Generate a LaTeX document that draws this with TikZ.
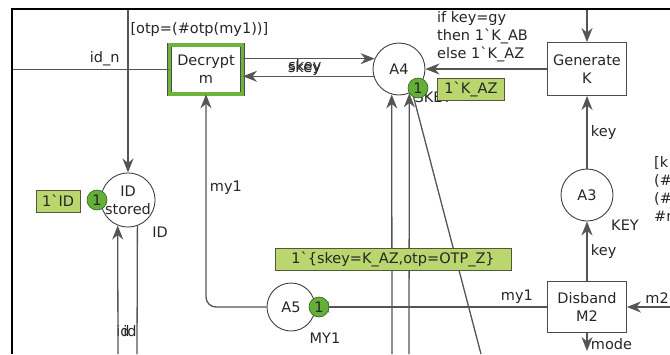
\documentclass[tikz,border=0pt]{standalone}
\usepackage{fontspec}
\setmainfont{DejaVu Sans}
\usetikzlibrary{arrows.meta}

\definecolor{arcgray}{RGB}{85,85,85}
\definecolor{tokgreen}{RGB}{100,175,55}
\definecolor{tokedge}{RGB}{45,100,30}
\definecolor{markfill}{RGB}{185,215,110}
\definecolor{markedge}{RGB}{85,85,60}
\definecolor{enabled}{RGB}{110,180,60}
\newcommand{\bq}{\textasciigrave}

\begin{document}
\begin{tikzpicture}[x=1pt,y=-1pt,>={Stealth[length=14pt,width=11pt,inset=4.5pt]},
    every node/.style={font=\fontsize{14.5}{18}\selectfont, text=black!85},
    arc/.style={draw=arcgray, line width=1.3pt},
    place/.style={circle, draw=black!75, line width=0.9pt, fill=white, inner sep=0pt, minimum size=52pt, align=center},
    trans/.style={rectangle, draw=black!70, line width=0.9pt, fill=white, minimum width=79pt, minimum height=53pt, align=center, inner sep=0pt},
    enabledtrans/.style={trans, double=enabled, double distance=3.4pt, line width=0.6pt, minimum width=73.4pt, minimum height=49pt},
    token/.style={circle, fill=tokgreen, draw=tokedge, line width=0.6pt, inner sep=0pt, minimum size=20pt},
    marking/.style={rectangle, fill=markfill, draw=markedge, line width=0.8pt, inner sep=0pt, inner xsep=5pt, minimum height=22pt}]
      \useasboundingbox (0,0) rectangle (670,354);
      \clip (0,0) rectangle (670,354);

      % places and transitions
      \node[place] (idst) at (128,200) {ID\\stored};
      \node[place] (A4) at (399,69) {A4};
      \node[place] (A3) at (587,195) {A3};
      \node[place, minimum size=48pt] (A5) at (291,307) {A5};
      \node[enabledtrans] (dec) at (206,69.5) {Decrypt\\m};
      \node[trans] (gen) at (587,69) {Generate\\K};
      \node[trans, minimum height=51pt] (dis) at (587,307) {Disband\\M2};

      % inscriptions
      \node[anchor=west] (decguard) at (127,29) {[otp=(\#otp(my1))]};
      \node[anchor=north west, align=left, inner sep=0pt] (gencode) at (437,11) {if key=gy\\then 1\bq K\_AB\\else 1\bq K\_AZ};
      \node[anchor=north west, align=left, inner sep=0pt] (disguard) at (654,156) {[k\\(\#\\(\#\\\#m};
      \node (idcs) at (160,232) {ID};
      \node (A4cs) at (433,97) {SKEY};
      \node (A3cs) at (625,225) {KEY};
      \node (A5cs) at (325,338) {MY1};
      \node (lid1) at (123,331) {id};
      \node (lid2) at (130,331) {id};

      % free ends
      \coordinate (idtop) at (128,9);
      \coordinate (idleft) at (12,69.5);
      \coordinate (idbot1) at (118,354);
      \coordinate (idbot2) at (137,354);
      \coordinate (gentop) at (587,9);
      \coordinate (m2end) at (670,307);
      \coordinate (modeend) at (587,351);
      \coordinate (a4bot1) at (392,354);
      \coordinate (a4bot2) at (409,354);
      \coordinate (a4bot3) at (481,354);

      % arcs
      \draw[arc,->] (idtop) -- (idst);
      \draw[arc] (idleft) -- node[above, pos=.59] {id\_n} (dec);
      \draw[arc,->] (idbot1) -- (idst.-112);
      \draw[arc] (idst.-70) -- (idbot2);
      \draw[arc,->] (dec.east |- A4.157) -- node[pos=.47, anchor=north, inner sep=0pt] {skey} (A4.157);
      \draw[arc,->] (A4.196) -- node[pos=.53, anchor=south, inner sep=0pt] {skey} (dec.east |- A4.196);
      \draw[arc,->] (gen) -- (A4);
      \draw[arc,->] (gentop) -- (gen);
      \draw[arc,->] (A3) -- node[right] {key} (gen);
      \draw[arc,->] (dis) -- node[right] {key} (A3);
      \draw[arc,->] (m2end) -- node[above, pos=.3] {m2} (dis);
      \draw[arc,->] (dis) -- node[right, pos=.6] {mode} (modeend);
      \draw[arc,->] (dis) -- node[above, pos=.13] {my1} (A5);
      \draw[arc,->,rounded corners=10pt] (A5) -| node[right, pos=.78] {my1} (dec);
      \draw[arc,->] (a4bot1) -- (A4.-106);
      \draw[arc,->] (a4bot2) -- (A4.-67);
      \draw[arc] (A4.-60) -- (a4bot3);

      % window edge
      \coordinate (frtl) at (12,9);
      \coordinate (frtr) at (670,9);
      \coordinate (frbl) at (12,354);
      \draw[line width=1.6pt] (frtr) -- (frtl) -- (frbl);

      % markings
      \node[token] (tokid) at (97,200) {1};
      \node[marking, minimum width=44pt] (markid) at (58,201) {1\bq ID};
      \node[token] (tok4) at (418,88) {1};
      \node[marking, minimum width=67pt] (mark4) at (471,89) {1\bq K\_AZ};
      \node[token] (tok5) at (319,307) {1};
      \node[marking, minimum width=236pt] (mark5) at (393,259.5) {1\bq\{skey=K\_AZ,otp=OTP\_Z\}};
    \end{tikzpicture}
\end{document}
